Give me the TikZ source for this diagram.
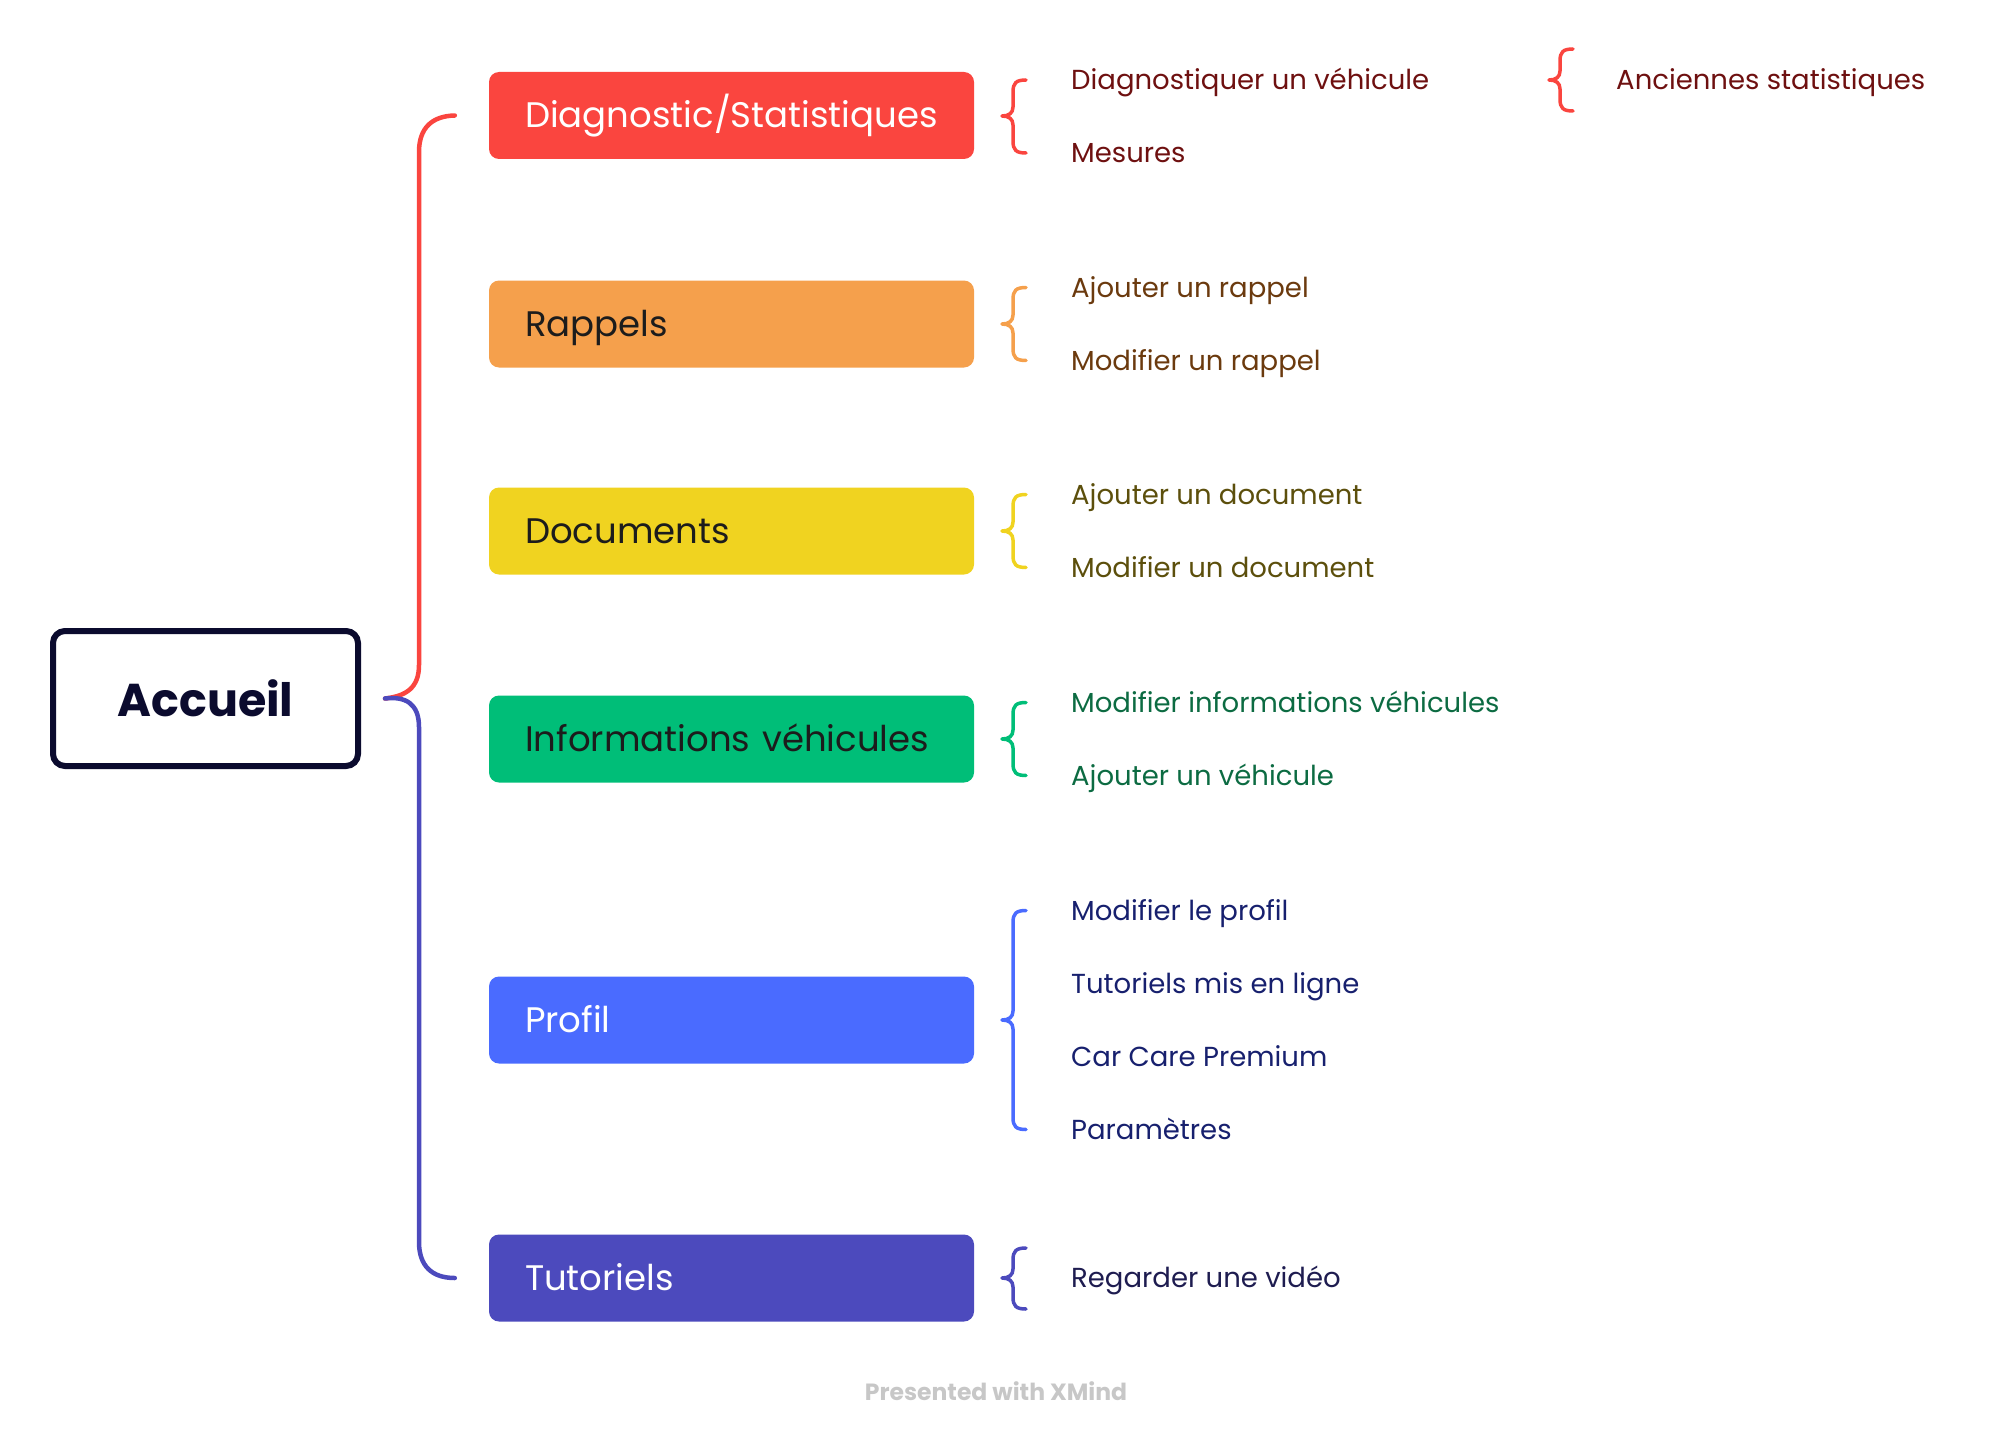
\documentclass[tikz,border=0pt]{standalone}
\usepackage{fontspec}
\setmainfont{Poppins}
\definecolor{cRed}{HTML}{FA453F}
\definecolor{cOrange}{HTML}{F5A04C}
\definecolor{cYellow}{HTML}{F0D320}
\definecolor{cGreen}{HTML}{00BE78}
\definecolor{cBlue}{HTML}{4A6BFF}
\definecolor{cPurple}{HTML}{4C4ABD}
\definecolor{cNavy}{HTML}{0B0B2E}
\definecolor{tRed}{HTML}{6E1010}
\definecolor{tOrange}{HTML}{6B3A0E}
\definecolor{tYellow}{HTML}{5C4F0C}
\definecolor{tGreen}{HTML}{0C6B42}
\definecolor{tBlue}{HTML}{17206E}
\definecolor{tPurple}{HTML}{1E1C50}
\definecolor{tDark}{HTML}{1C1C1C}

% curly brace: colour, x of the stem, top y, tip y, bottom y
\newcommand{\itembrace}[5]{%
  \draw[bracestyle,#1] ({#2+13},#3) .. controls ({#2+3},#3) and (#2,{#3+3}) .. (#2,{#3+12})
    -- (#2,{#4-9}) .. controls (#2,{#4-3}) and ({#2-4},#4) .. ({#2-11},#4)
    .. controls ({#2-4},#4) and (#2,{#4+3}) .. (#2,{#4+9})
    -- (#2,{#5-12}) .. controls (#2,{#5-3}) and ({#2+3},#5) .. ({#2+13},#5);}

\begin{document}
\begin{tikzpicture}[x=1pt,y=-1pt,
  topic/.style={rounded corners=10pt, minimum height=87pt, text width=413pt,
    inner xsep=36pt, inner ysep=0pt, align=left, font=\fontsize{35.5}{40}\selectfont,
    text height=24.8pt, text depth=0pt},
  item/.style={anchor=west, inner sep=0pt, font=\fontsize{27.5}{32}\selectfont,
    text height=19.2pt, text depth=0pt},
  trunk/.style={line width=4.5pt, line cap=round},
  bracestyle/.style={line width=3.5pt, line cap=round, line join=round}]
\useasboundingbox (0,0) rectangle (1992,1442);

% central topic
\node[draw=cNavy, line width=6pt, rounded corners=12pt, fill=white,
  minimum width=305pt, minimum height=135pt,
  font=\fontsize{46}{50}\selectfont\bfseries, text=cNavy] (acc) at (205.5,698.5) {Accueil};

% main topics
\node[topic, fill=cRed, text=white] (dg) at (731.5,115.5) {Diagnostic/Statistiques};
\node[topic, fill=cOrange, text=tDark] (ra) at (731.5,324) {Rappels};
\node[topic, fill=cYellow, text=tDark] (doc) at (731.5,531) {Documents};
\node[topic, fill=cGreen, text=tDark] (inf) at (731.5,739) {Informations véhicules};
\node[topic, fill=cBlue, text=white] (pr) at (731.5,1020) {Profil};
\node[topic, fill=cPurple, text=white] (tu) at (731.5,1278) {Tutoriels};

% trunk from the central topic
\coordinate (jn) at ([xshift=24pt]acc.east);
\draw[trunk, cRed] (jn) .. controls (406,696) and (419,688) .. (419,665)
  -- (419,152) .. controls (419,128) and (432,116) .. ([xshift=-34pt]dg.west);
\draw[trunk, cPurple] (jn) .. controls (406,696) and (419,704) .. (419,727)
  -- (419,1242) .. controls (419,1266) and (432,1278) .. ([xshift=-34pt]tu.west);

% subtopics
\node[item, text=tRed] (dg1) at (1071,80) {Diagnostiquer un véhicule};
\node[item, text=tRed] (dg2) at (1071,153) {Mesures};
\node[item, text=tRed] (dg11) at (1616,80) {Anciennes statistiques};
\itembrace{cRed}{1013}{80}{116}{153}
\itembrace{cRed}{1560}{49}{80}{111}

\node[item, text=tOrange] (ra1) at (1071,287.5) {Ajouter un rappel};
\node[item, text=tOrange] (ra2) at (1071,360.5) {Modifier un rappel};
\itembrace{cOrange}{1013}{287.5}{324}{360.5}

\node[item, text=tYellow] (doc1) at (1071,494.5) {Ajouter un document};
\node[item, text=tYellow] (doc2) at (1071,567.5) {Modifier un document};
\itembrace{cYellow}{1013}{494.5}{531}{567.5}

\node[item, text=tGreen] (inf1) at (1071,702.5) {Modifier informations véhicules};
\node[item, text=tGreen] (inf2) at (1071,775.5) {Ajouter un véhicule};
\itembrace{cGreen}{1013}{702.5}{739}{775.5}

\node[item, text=tBlue] (pr1) at (1071,910.5) {Modifier le profil};
\node[item, text=tBlue] (pr2) at (1071,983.5) {Tutoriels mis en ligne};
\node[item, text=tBlue] (pr3) at (1071,1056.5) {Car Care Premium};
\node[item, text=tBlue] (pr4) at (1071,1129.5) {Paramètres};
\itembrace{cBlue}{1013}{910.5}{1020}{1129.5}

\node[item, text=tPurple] (tu1) at (1071,1278) {Regarder une vidéo};
\itembrace{cPurple}{1013}{1248}{1278}{1309}

% footer
\node[font=\fontsize{23.5}{27}\selectfont\bfseries, text=black!22] (foot) at (996,1391) {Presented with XMind};
\end{tikzpicture}
\end{document}
